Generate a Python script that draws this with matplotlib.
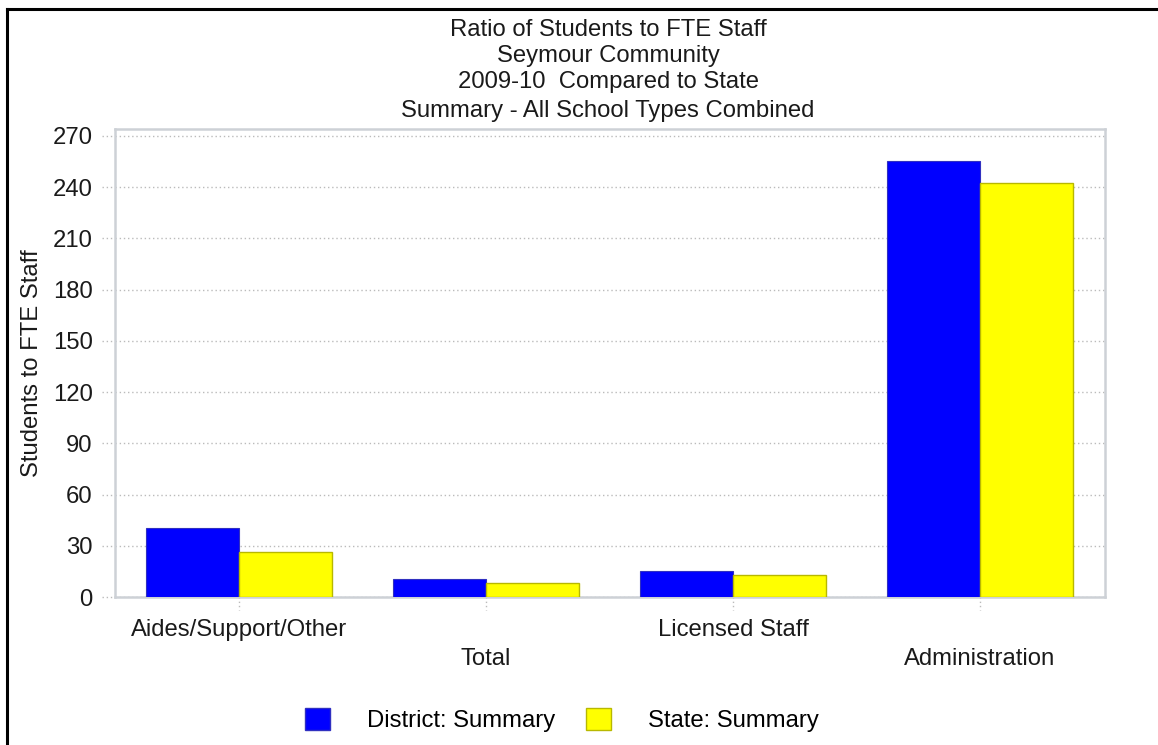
import matplotlib
matplotlib.use("Agg")
import matplotlib.pyplot as plt
import numpy as np
from matplotlib.patches import Patch
from matplotlib.lines import Line2D

categories = ["Aides/Support/Other", "Total", "Licensed Staff", "Administration"]
district = [40.6, 10.8, 15.2, 255.0]
state = [26.6, 8.4, 12.7, 242.1]
yticks = [0, 30, 60, 90, 120, 150, 180, 210, 240, 270]
title_lines = ["Ratio of Students to FTE Staff", "Seymour Community",
               "2009-10  Compared to State", "Summary - All School Types Combined"]
series_names = ["District: Summary", "State: Summary"]

plt.rcParams['font.family'] = ['Liberation Sans', 'DejaVu Sans']
FS = 17.2
TXT = '#1a1a1a'

fig = plt.figure(figsize=(11.58, 7.45), dpi=100)
ax = fig.add_axes([115/1158, 1 - 597/745, (1105-115)/1158, (597-128.6)/745])

x = np.arange(len(categories))
w = 0.376
ax.bar(x - w/2, district, w, color='#0000FF', edgecolor='#3030C0', linewidth=0.8, zorder=3)
ax.bar(x + w/2, state, w, color='#FFFF00', edgecolor='#B8B800', linewidth=1.0, zorder=3)

ax.set_xlim(-0.502, 3.506)
ax.set_ylim(0, 274.2)
ax.set_yticks(yticks)
ax.set_yticklabels([str(v) for v in yticks], fontsize=FS, color=TXT)
ax.set_xticks(x)
ax.set_xticklabels(categories, fontsize=FS, color=TXT)
ax.tick_params(axis='both', length=0)
ax.tick_params(axis='y', pad=16)
for i, t in enumerate(ax.xaxis.get_major_ticks()):
    t.set_pad(16 if i % 2 == 0 else 37)

ax.grid(axis='y', linestyle=(0, (1, 2)), color='#BBBBBB', linewidth=1.0, zorder=0)
for s in ax.spines.values():
    s.set_color('#CDD1D6')
    s.set_linewidth(1.8)

# dotted tick marks outside the axes
tr_y = ax.get_yaxis_transform()
for v in yticks:
    ax.add_line(Line2D([-0.013, 0], [v, v], transform=tr_y, linestyle=(0, (1, 2)),
                       color='#BBBBBB', linewidth=1.0, clip_on=False))
tr_x = ax.get_xaxis_transform()
for xi in x:
    ax.add_line(Line2D([xi, xi], [0, -0.028], transform=tr_x, linestyle=(0, (1, 2)),
                       color='#BBBBBB', linewidth=1.0, clip_on=False))

ax.set_ylabel("Students to FTE Staff", fontsize=FS, color=TXT, labelpad=7)

title_y = [30, 56, 82, 111]
for line, yy in zip(title_lines, title_y):
    fig.text(608/1158, 1 - yy/745, line, ha='center', va='center', fontsize=FS, color=TXT)

handles = [Patch(facecolor='#0000FF', edgecolor='#3030C0'),
           Patch(facecolor='#FFFF00', edgecolor='#B8B800')]
fig.legend(handles, series_names, loc='center', bbox_to_anchor=(562/1158, 1 - 720/745),
           ncol=2, frameon=False, fontsize=FS, handlelength=1.05, handleheight=1.05,
           handletextpad=1.55, columnspacing=1.3)

# black frame at top and left
fig.add_artist(Line2D([7/1158, 1], [1 - 9/745, 1 - 9/745], transform=fig.transFigure,
                      color='black', linewidth=2.2))
fig.add_artist(Line2D([7/1158, 7/1158], [0, 1 - 9/745], transform=fig.transFigure,
                      color='black', linewidth=2.2))

fig.savefig("out.png", dpi=100)
